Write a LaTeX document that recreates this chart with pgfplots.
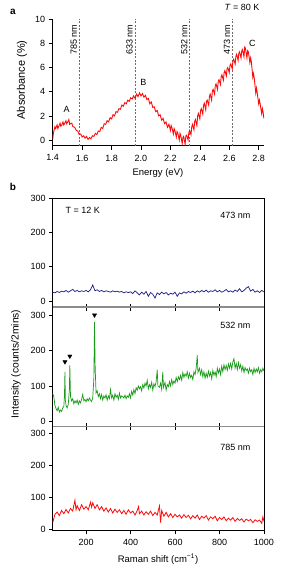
\documentclass[border=0pt]{standalone}
\usepackage{fontspec}
\setmainfont{Liberation Sans}
\usepackage{pgfplots}
\pgfplotsset{compat=1.18}
\definecolor{rd}{RGB}{255,10,10}
\definecolor{gr}{RGB}{25,155,25}
\definecolor{bl}{RGB}{25,25,130}
\definecolor{sep}{RGB}{140,140,140}
\definecolor{dsh}{RGB}{110,110,110}
\pgfplotsset{
  base/.style={
    scale only axis, width=211.3pt,
    font=\fontsize{9}{10}\selectfont,
    tick label style={font=\fontsize{9}{10}\selectfont},
    /pgf/number format/assume math mode=true,
    /pgf/number format/1000 sep={},
    tick style={black, line width=0.5pt},
    axis line style={line width=0.6pt},
    minor tick num=0,
    clip mode=individual,
    xticklabel style={yshift=-1.5pt},
  },
  ramanp/.style={base, xmin=50, xmax=1000,
    ytick={0,100,200,300}, ytick pos=left, tick align=outside,
    major tick length=3.5pt, anchor=south west},
}
\begin{document}
\begin{tikzpicture}
\useasboundingbox (0pt,0pt) rectangle (287pt,570pt);
% ---------------- panel a ----------------
\begin{axis}[base, at={(52.7pt,424.3pt)}, anchor=south west, height=126.4pt,
  xmin=1.4, xmax=2.836, ymin=-0.47, ymax=10,
  axis x line*=bottom, axis y line*=left, axis line style={-},
  tick align=outside, major tick length=4pt,
  xtick={1.4,1.6,1.8,2.0,2.2,2.4,2.6,2.8}, ytick={0,2,4,6,8,10},
  xticklabel style={/pgf/number format/.cd,fixed,fixed zerofill,precision=1},
  xlabel={Energy (eV)}, ylabel={Absorbance (\%)},
  xlabel style={at={(axis description cs:0.498,-0.216)}, anchor=center, font=\fontsize{9.5}{11}\selectfont},
  ylabel style={at={(axis description cs:-0.145,0.52)}, anchor=center, font=\fontsize{11}{12}\selectfont},
]
\addplot[dsh, line width=0.8pt, dash pattern=on 2pt off 1.5pt] coordinates {(1.579,-0.47) (1.579,10)};
\addplot[dsh, line width=0.8pt, dash pattern=on 2pt off 1.5pt] coordinates {(1.959,-0.47) (1.959,10)};
\addplot[dsh, line width=0.8pt, dash pattern=on 2pt off 1.5pt] coordinates {(2.331,-0.47) (2.331,10)};
\addplot[dsh, line width=0.8pt, dash pattern=on 2pt off 1.5pt] coordinates {(2.621,-0.47) (2.621,10)};
\addplot[rd, line width=0.9pt] table {
1.40 0.05
1.405 0.6
1.41 0.85
1.415 1.1
1.42 0.95
1.43 1.25
1.435 0.95
1.44 1.1
1.45 1.4
1.455 1.15
1.46 1.2
1.47 1.5
1.475 1.25
1.48 1.35
1.49 1.6
1.495 1.35
1.50 1.45
1.51 1.7
1.515 1.3
1.52 1.35
1.53 1.4
1.535 1.15
1.54 1.1
1.55 1.05
1.56 0.8
1.57 0.75
1.58 0.45
1.59 0.5
1.60 0.25
1.61 0.35
1.62 0.15
1.63 0.3
1.64 0.05
1.65 0.2
1.66 0.1
1.67 0.35
1.68 0.3
1.69 0.55
1.70 0.45
1.71 0.75
1.72 0.7
1.73 1.05
1.74 0.95
1.75 1.35
1.76 1.3
1.77 1.6
1.78 1.5
1.79 1.85
1.80 1.75
1.81 2.1
1.82 2.0
1.83 2.35
1.84 2.3
1.85 2.6
1.86 2.55
1.87 2.9
1.88 2.8
1.89 3.1
1.90 3.0
1.91 3.3
1.92 3.2
1.93 3.5
1.94 3.4
1.95 3.65
1.96 3.45
1.97 3.8
1.98 3.6
1.99 3.9
2.00 3.65
2.01 3.85
2.02 3.55
2.03 3.7
2.04 3.35
2.05 3.45
2.06 3.0
2.07 3.15
2.08 2.7
2.09 2.75
2.10 2.35
2.11 2.45
2.12 2.0
2.13 2.1
2.14 1.65
2.15 1.8
2.16 1.35
2.17 1.5
2.18 1.05
2.19 1.3
2.20 0.8
2.205 1.2
2.21 1.05
2.22 0.5
2.225 0.95
2.23 0.8
2.24 0.25
2.245 0.7
2.25 0.6
2.26 0.0
2.265 0.55
2.27 0.4
2.28 -0.3
2.285 0.2
2.29 0.3
2.30 -0.35
2.305 0.35
2.31 0.4
2.32 0.0
2.325 0.6
2.33 0.8
2.34 0.45
2.345 1.1
2.35 1.3
2.36 0.85
2.365 1.55
2.37 1.7
2.38 1.2
2.385 2.0
2.39 2.2
2.40 1.75
2.405 2.45
2.41 2.6
2.42 2.15
2.425 2.85
2.43 3.05
2.44 2.5
2.445 3.2
2.45 3.3
2.46 2.9
2.465 3.6
2.47 3.8
2.48 3.3
2.485 4.05
2.49 4.2
2.50 3.8
2.505 4.5
2.51 4.65
2.52 4.2
2.525 4.85
2.53 5.0
2.54 4.6
2.545 5.25
2.55 5.4
2.56 4.95
2.565 5.6
2.57 5.75
2.58 5.3
2.585 5.9
2.59 6.0
2.60 5.6
2.605 6.2
2.61 6.3
2.62 5.9
2.625 6.55
2.63 6.7
2.64 6.3
2.645 6.95
2.65 7.1
2.66 6.6
2.665 7.2
2.67 7.3
2.68 6.8
2.685 7.4
2.69 7.5
2.70 6.9
2.705 7.7
2.71 7.6
2.72 6.8
2.725 7.4
2.73 7.3
2.74 6.4
2.745 6.8
2.75 6.5
2.76 5.2
2.765 5.5
2.77 5.1
2.78 3.9
2.785 4.3
2.79 3.9
2.80 3.0
2.805 3.3
2.81 3.0
2.82 2.2
2.825 2.6
2.83 2.3
2.835 1.8
};
\node[rotate=90, anchor=south east, inner sep=2pt] at (axis cs:1.579,9.75) {785 nm};
\node[rotate=90, anchor=south east, inner sep=2pt] at (axis cs:1.959,9.75) {633 nm};
\node[rotate=90, anchor=south east, inner sep=2pt] at (axis cs:2.331,9.75) {532 nm};
\node[rotate=90, anchor=south east, inner sep=2pt] at (axis cs:2.621,9.75) {473 nm};
\node at (axis cs:1.495,2.55) {A};
\node at (axis cs:2.016,4.75) {B};
\node at (axis cs:2.757,8.0) {C};
\end{axis}
% ---------------- panel b top ----------------
\begin{axis}[ramanp, at={(52.7pt,262.7pt)}, height=109.3pt,
  ymin=-18, ymax=300, xtick={200,400,600,800}, xticklabels={}, xtick pos=lower]
\addplot[bl, line width=0.7pt] table {
50 26
60 24
70 28
80 25
90 29
100 27
110 31
120 26
130 30
140 34
150 28
160 31
170 27
180 30
190 28
200 31
210 27
220 33
230 47
240 30
250 33
260 28
270 31
280 27
290 30
300 28
310 26
320 30
330 27
340 29
350 26
360 28
370 24
380 27
390 25
400 27
410 22
420 30
430 24
440 18
450 26
460 20
470 28
480 14
490 25
500 20
510 9
520 24
530 19
540 26
550 21
560 25
570 18
580 23
590 20
600 26
610 14
620 24
630 21
640 27
650 23
660 28
670 25
680 29
690 24
700 30
710 26
720 31
730 27
740 32
750 26
760 30
770 28
780 33
790 27
800 31
810 26
820 29
830 34
840 27
850 30
860 26
870 32
880 28
890 36
900 27
910 31
920 38
930 42
940 29
950 34
960 26
970 30
980 25
990 31
1000 27
};
\end{axis}
% ---------------- panel b middle ----------------
\begin{axis}[ramanp, at={(52.7pt,143.3pt)}, height=119.4pt,
  ymin=-15, ymax=322, xtick={200,400,600,800}, xticklabels={}, xtick pos=both]
\addplot[gr, line width=0.7pt] table {
50 78
55 70
60 45
65 36
70 30
75 40
80 26
85 32
90 28
95 38
100 42
103 75
105 140
107 60
110 45
115 38
120 48
125 90
127 158
130 70
135 58
140 64
145 50
150 58
155 52
160 60
165 48
170 58
175 52
180 62
185 76
190 58
195 62
200 55
205 64
210 58
215 66
220 60
225 56
230 66
235 120
238 281
241 150
245 80
250 86
255 70
260 78
265 64
270 76
275 60
280 72
285 66
290 75
295 60
300 72
305 64
310 90
315 66
320 74
325 60
330 78
335 68
340 74
345 62
350 80
355 66
360 72
365 70
370 66
375 74
380 64
385 72
390 68
395 78
400 66
405 85
410 74
415 90
420 78
425 95
430 88
435 100
440 92
445 98
450 86
455 104
460 94
465 108
470 100
475 116
480 92
485 104
490 96
495 110
500 88
505 106
510 98
515 112
520 146
523 100
530 96
535 108
540 90
545 140
548 96
555 110
560 88
565 104
570 98
575 112
580 100
585 118
590 104
595 114
600 108
605 124
610 112
615 126
620 118
625 130
630 116
635 138
640 124
645 134
650 128
655 140
660 122
665 136
670 124
675 130
680 118
685 140
690 132
695 150
700 187
703 138
710 150
715 132
720 146
725 126
730 140
735 122
740 136
745 124
750 142
755 128
760 138
765 120
770 144
775 130
780 140
785 126
790 150
795 136
800 148
805 132
810 156
815 140
820 160
825 146
830 158
835 144
840 162
845 150
850 164
855 148
860 168
865 177
870 150
875 164
880 146
885 166
890 150
895 160
900 142
905 156
910 138
915 152
920 144
925 148
930 136
935 150
940 140
945 146
950 132
955 150
960 138
965 148
970 140
975 152
980 136
985 146
990 140
995 150
1000 142
};
\addplot[only marks, mark=triangle*, mark size=2.4pt, mark options={rotate=180, fill=black, draw=black}] coordinates {(105,168) (127,184) (238,300)};
\end{axis}
% ---------------- panel b bottom ----------------
\begin{axis}[ramanp, at={(52.7pt,39.3pt)}, height=104pt,
  ymin=-3, ymax=320.6, xtick={200,400,600,800,1000}, xtick pos=both, xticklabel pos=lower]
\addplot[rd, line width=0.8pt] table {
50 22
55 35
60 48
70 55
80 44
90 60
100 50
110 63
120 52
130 66
140 58
150 92
155 62
160 75
170 60
180 78
190 64
200 72
210 62
220 86
225 70
230 84
240 66
250 78
260 62
270 72
280 58
290 68
300 55
310 66
320 52
330 64
340 54
350 62
360 50
370 60
380 48
390 62
400 52
410 58
420 46
430 60
436 72
440 50
450 58
460 46
470 56
480 48
490 58
500 44
510 54
520 46
530 74
535 22
540 60
550 42
560 54
570 40
580 50
590 38
600 48
610 40
620 46
630 36
640 47
650 38
660 45
670 34
680 44
690 36
700 46
710 32
720 42
730 36
740 44
750 30
760 40
770 34
780 42
790 28
800 38
810 32
820 40
830 28
840 36
850 30
860 38
870 26
880 35
890 29
900 34
910 24
920 33
930 28
940 32
950 22
960 31
970 26
980 30
990 20
995 40
1000 26
};
\end{axis}
% separators
\draw[sep, line width=1.6pt] (52.7pt,262.7pt) -- (264pt,262.7pt);
\draw[sep, line width=1.6pt] (52.7pt,143.3pt) -- (264pt,143.3pt);
% texts
\begin{scope}[font=\fontsize{9}{10}\selectfont]
\node[anchor=east] at (263pt,562.5pt) {\textit{T} = 80 K};
\node[anchor=west] at (62pt,360pt) {T = 12 K};
\node[anchor=east] at (254pt,354.7pt) {473 nm};
\node[anchor=east] at (254pt,244.3pt) {532 nm};
\node[anchor=east] at (254pt,122.7pt) {785 nm};
\node[rotate=90, font=\fontsize{10.3}{11}\selectfont] at (16pt,206pt) {Intensity (counts/2mins)};
\node[font=\fontsize{9.5}{11}\selectfont] at (158pt,10.7pt) {Raman shift (cm\textsuperscript{−1})};
\end{scope}
\node[font=\fontsize{10}{12}\selectfont\bfseries] at (13pt,558pt) {a};
\node[font=\fontsize{10}{12}\selectfont\bfseries] at (13pt,383pt) {b};
\end{tikzpicture}
\end{document}
